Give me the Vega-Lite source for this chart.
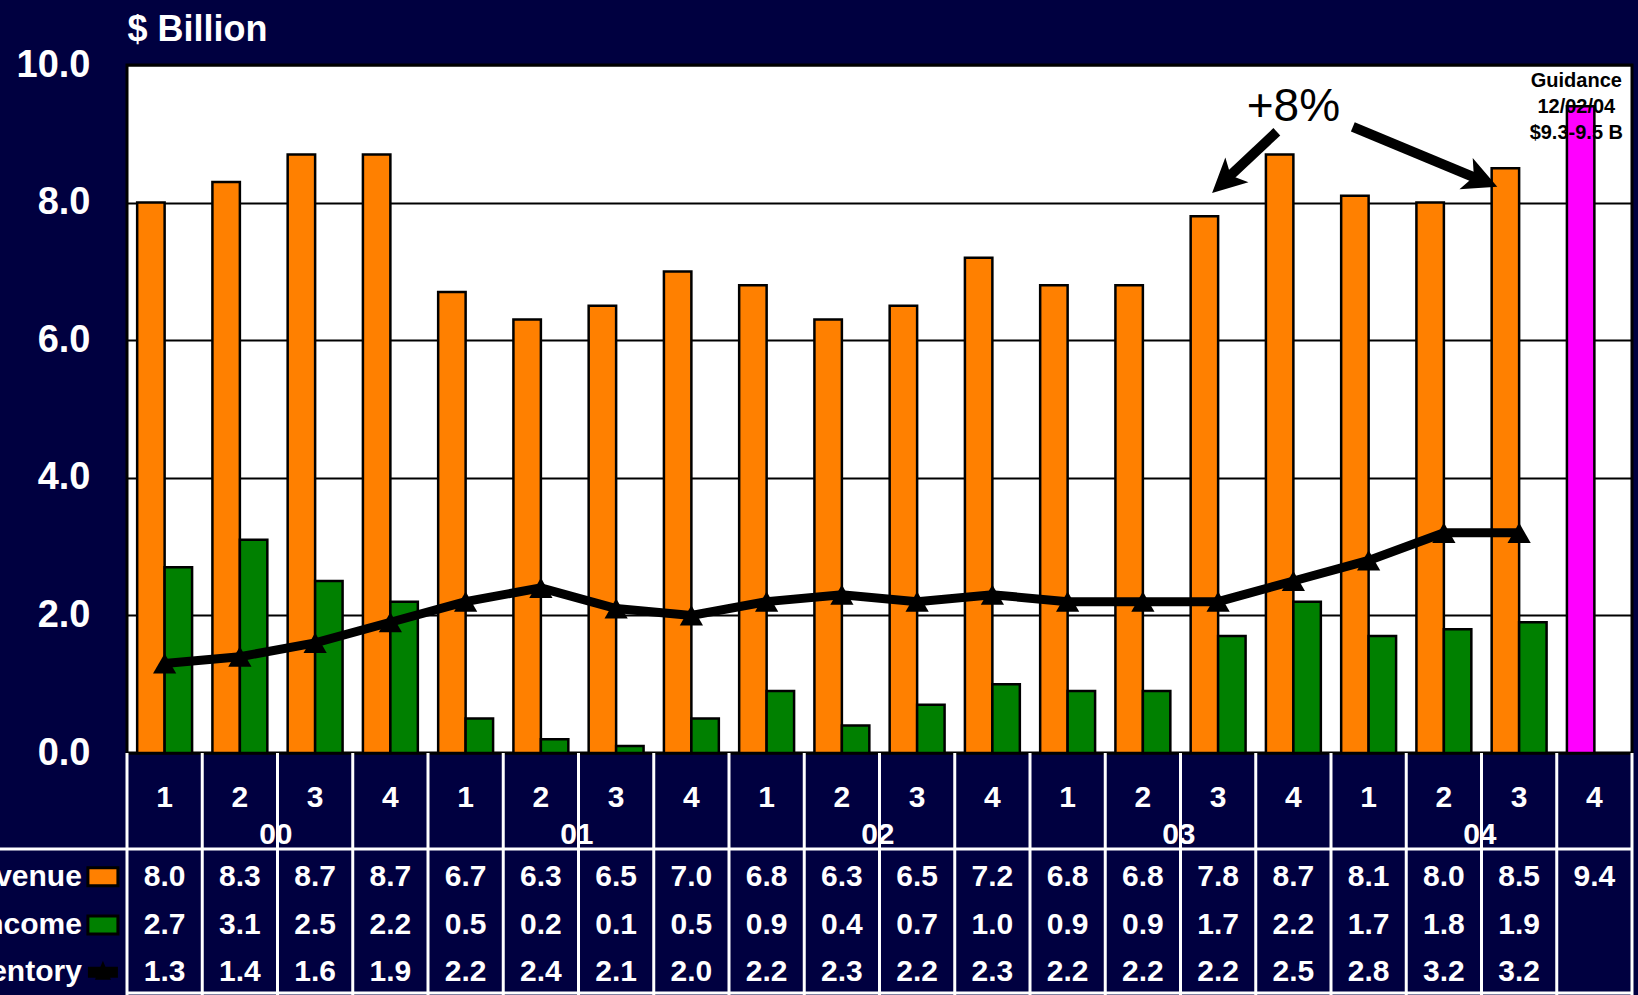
{
  "$schema": "https://vega.github.io/schema/vega-lite/v6.json",
  "width": 1505,
  "height": 688,
  "autosize": {"type": "none"},
  "padding": {"left": 127, "top": 65, "right": 6, "bottom": 242},
  "background": "#000040",
  "config": {
    "font": "Liberation Sans",
    "view": {"fill": "white", "stroke": "black", "strokeWidth": 3}
  },
  "datasets": {
    "quarters": [
      {"q": "00-1", "year": "00", "qtr": "1", "Revenue": 8.0, "Income": 2.7, "Inventory": 1.3},
      {"q": "00-2", "year": "00", "qtr": "2", "Revenue": 8.3, "Income": 3.1, "Inventory": 1.4},
      {"q": "00-3", "year": "00", "qtr": "3", "Revenue": 8.7, "Income": 2.5, "Inventory": 1.6},
      {"q": "00-4", "year": "00", "qtr": "4", "Revenue": 8.7, "Income": 2.2, "Inventory": 1.9},
      {"q": "01-1", "year": "01", "qtr": "1", "Revenue": 6.7, "Income": 0.5, "Inventory": 2.2},
      {"q": "01-2", "year": "01", "qtr": "2", "Revenue": 6.3, "Income": 0.2, "Inventory": 2.4},
      {"q": "01-3", "year": "01", "qtr": "3", "Revenue": 6.5, "Income": 0.1, "Inventory": 2.1},
      {"q": "01-4", "year": "01", "qtr": "4", "Revenue": 7.0, "Income": 0.5, "Inventory": 2.0},
      {"q": "02-1", "year": "02", "qtr": "1", "Revenue": 6.8, "Income": 0.9, "Inventory": 2.2},
      {"q": "02-2", "year": "02", "qtr": "2", "Revenue": 6.3, "Income": 0.4, "Inventory": 2.3},
      {"q": "02-3", "year": "02", "qtr": "3", "Revenue": 6.5, "Income": 0.7, "Inventory": 2.2},
      {"q": "02-4", "year": "02", "qtr": "4", "Revenue": 7.2, "Income": 1.0, "Inventory": 2.3},
      {"q": "03-1", "year": "03", "qtr": "1", "Revenue": 6.8, "Income": 0.9, "Inventory": 2.2},
      {"q": "03-2", "year": "03", "qtr": "2", "Revenue": 6.8, "Income": 0.9, "Inventory": 2.2},
      {"q": "03-3", "year": "03", "qtr": "3", "Revenue": 7.8, "Income": 1.7, "Inventory": 2.2},
      {"q": "03-4", "year": "03", "qtr": "4", "Revenue": 8.7, "Income": 2.2, "Inventory": 2.5},
      {"q": "04-1", "year": "04", "qtr": "1", "Revenue": 8.1, "Income": 1.7, "Inventory": 2.8},
      {"q": "04-2", "year": "04", "qtr": "2", "Revenue": 8.0, "Income": 1.8, "Inventory": 3.2},
      {"q": "04-3", "year": "04", "qtr": "3", "Revenue": 8.5, "Income": 1.9, "Inventory": 3.2},
      {"q": "04-4", "year": "04", "qtr": "4", "Revenue": 9.4, "Income": null, "Inventory": null}
    ]
  },
  "layer": [
    {
      "data": {"name": "quarters"},
      "encoding": {
        "x": {"field": "q", "type": "nominal", "sort": null, "axis": null,
              "scale": {"paddingInner": 0, "paddingOuter": 0}}
      },
      "layer": [
        {
          "transform": [{"fold": ["Revenue", "Income"], "as": ["series", "value"]}],
          "mark": {"type": "bar", "stroke": "black", "strokeWidth": 2.5},
          "encoding": {
            "xOffset": {"field": "series", "type": "nominal",
                        "scale": {"domain": ["Revenue", "Income"], "paddingInner": 0, "paddingOuter": 0.37}},
            "y": {"field": "value", "type": "quantitative",
                  "scale": {"domain": [0, 10], "nice": false, "zero": true},
                  "axis": {"values": [0, 2, 4, 6, 8, 10], "format": ".1f", "grid": true,
                           "gridColor": "black", "gridWidth": 2, "ticks": false, "domain": false,
                           "labelColor": "white", "labelFont": "Liberation Sans", "labelFontSize": 38,
                           "labelFontWeight": "bold", "labelPadding": 37,
                           "title": "$ Billion", "titleAngle": 0, "titleX": 0, "titleY": -36,
                           "titleAlign": "left", "titleBaseline": "middle", "titleColor": "white",
                           "titleFont": "Liberation Sans", "titleFontSize": 36, "titleFontWeight": "bold"}},
            "color": {
              "condition": {"test": "datum.q === '04-4'", "value": "#FF00FF"},
              "field": "series", "type": "nominal",
              "scale": {"domain": ["Revenue", "Income"], "range": ["#FF8000", "#008000"]},
              "legend": null
            }
          }
        },
        {
          "mark": {"type": "line", "color": "black", "strokeWidth": 9,
                   "point": {"shape": "triangle-up", "size": 540, "filled": true, "color": "black"}},
          "encoding": {"y": {"field": "Inventory", "type": "quantitative"}}
        },
        {
          "mark": {"type": "rule", "color": "white", "strokeWidth": 3},
          "encoding": {
            "x": {"field": "q", "type": "nominal", "sort": null, "bandPosition": 0},
            "y": {"datum": 0},
            "y2": {"datum": -3.6}
          }
        },
        {
          "mark": {"type": "text", "color": "white", "fontSize": 30, "fontWeight": "bold", "baseline": "middle"},
          "encoding": {"text": {"field": "qtr"}, "y": {"datum": -0.654}}
        },
        {
          "transform": [{"filter": "datum.qtr === '2'"}],
          "mark": {"type": "text", "color": "white", "fontSize": 30, "fontWeight": "bold", "baseline": "middle", "dx": 36},
          "encoding": {"text": {"field": "year"}, "y": {"datum": -1.19}}
        },
        {
          "mark": {"type": "text", "color": "white", "fontSize": 30, "fontWeight": "bold", "baseline": "middle"},
          "encoding": {"text": {"field": "Revenue", "format": ".1f"}, "y": {"datum": -1.80}}
        },
        {
          "transform": [{"filter": "datum.Income != null"}],
          "mark": {"type": "text", "color": "white", "fontSize": 30, "fontWeight": "bold", "baseline": "middle"},
          "encoding": {"text": {"field": "Income", "format": ".1f"}, "y": {"datum": -2.50}}
        },
        {
          "transform": [{"filter": "datum.Inventory != null"}],
          "mark": {"type": "text", "color": "white", "fontSize": 30, "fontWeight": "bold", "baseline": "middle"},
          "encoding": {"text": {"field": "Inventory", "format": ".1f"}, "y": {"datum": -3.18}}
        }
      ]
    },
    {
      "data": {"values": [{}]},
      "layer": [
        {
          "mark": {"type": "rule", "color": "white", "strokeWidth": 3},
          "encoding": {
            "x": {"datum": -1.7, "type": "quantitative", "scale": {"domain": [0, 20], "nice": false, "zero": false}, "axis": null},
            "x2": {"datum": 20},
            "y": {"datum": -1.395}
          }
        },
        {
          "mark": {"type": "rule", "color": "white", "strokeWidth": 3},
          "encoding": {
            "x": {"datum": 0, "type": "quantitative"},
            "x2": {"datum": 20},
            "y": {"datum": -3.49}
          }
        },
        {
          "mark": {"type": "rule", "color": "white", "strokeWidth": 3},
          "encoding": {
            "x": {"datum": 20, "type": "quantitative"},
            "y": {"datum": 0},
            "y2": {"datum": -3.6}
          }
        },
        {
          "mark": {"type": "text", "color": "white", "fontSize": 30, "fontWeight": "bold", "align": "right", "baseline": "middle"},
          "encoding": {"text": {"value": "Revenue"}, "x": {"datum": -0.6, "type": "quantitative"}, "y": {"datum": -1.80}}
        },
        {
          "mark": {"type": "text", "color": "white", "fontSize": 30, "fontWeight": "bold", "align": "right", "baseline": "middle"},
          "encoding": {"text": {"value": "Income"}, "x": {"datum": -0.6, "type": "quantitative"}, "y": {"datum": -2.50}}
        },
        {
          "mark": {"type": "text", "color": "white", "fontSize": 30, "fontWeight": "bold", "align": "right", "baseline": "middle"},
          "encoding": {"text": {"value": "Inventory"}, "x": {"datum": -0.6, "type": "quantitative"}, "y": {"datum": -3.18}}
        },
        {
          "mark": {"type": "point", "shape": "M-1.5,-0.9L1.5,-0.9L1.5,0.9L-1.5,0.9Z", "size": 400, "filled": true,
                   "fill": "#FF8000", "stroke": "black", "strokeWidth": 3, "opacity": 1},
          "encoding": {"x": {"datum": -0.32, "type": "quantitative"}, "y": {"datum": -1.80}}
        },
        {
          "mark": {"type": "point", "shape": "M-1.5,-0.9L1.5,-0.9L1.5,0.9L-1.5,0.9Z", "size": 400, "filled": true,
                   "fill": "#008000", "stroke": "black", "strokeWidth": 3, "opacity": 1},
          "encoding": {"x": {"datum": -0.32, "type": "quantitative"}, "y": {"datum": -2.50}}
        },
        {
          "mark": {"type": "point", "shape": "M-1.5,-0.5L1.5,-0.5L1.5,0.6L-1.5,0.6Z M-0.8,0.8L0,-1.1L0.8,0.8Z", "size": 400, "filled": true,
                   "fill": "black", "opacity": 1},
          "encoding": {"x": {"datum": -0.32, "type": "quantitative"}, "y": {"datum": -3.18}}
        },
        {
          "mark": {"type": "text", "color": "black", "fontSize": 46, "align": "center", "baseline": "middle"},
          "encoding": {"text": {"value": "+8%"}, "x": {"datum": 15.5, "type": "quantitative"}, "y": {"datum": 9.39}}
        },
        {
          "mark": {"type": "text", "color": "black", "fontSize": 20, "fontWeight": "bold", "align": "center", "baseline": "middle", "lineHeight": 26},
          "encoding": {"text": {"value": ["Guidance", "12/02/04", "$9.3-9.5 B"]}, "x": {"datum": 19.26, "type": "quantitative"}, "y": {"datum": 9.77}}
        },
        {
          "mark": {"type": "rule", "color": "black", "strokeWidth": 10},
          "encoding": {"x": {"datum": 15.28, "type": "quantitative"}, "x2": {"datum": 14.61}, "y": {"datum": 9.03}, "y2": {"datum": 8.34}}
        },
        {
          "mark": {"type": "point", "shape": "M0,0L-1,2L0,1.5L1,2Z", "size": 1150, "filled": true, "fill": "black", "opacity": 1, "angle": 227},
          "encoding": {"x": {"datum": 14.42, "type": "quantitative"}, "y": {"datum": 8.14}}
        },
        {
          "mark": {"type": "rule", "color": "black", "strokeWidth": 10},
          "encoding": {"x": {"datum": 16.29, "type": "quantitative"}, "x2": {"datum": 17.96}, "y": {"datum": 9.10}, "y2": {"datum": 8.34}}
        },
        {
          "mark": {"type": "point", "shape": "M0,0L-1,2L0,1.5L1,2Z", "size": 1150, "filled": true, "fill": "black", "opacity": 1, "angle": 113},
          "encoding": {"x": {"datum": 18.21, "type": "quantitative"}, "y": {"datum": 8.23}}
        }
      ]
    }
  ],
  "resolve": {"scale": {"x": "independent"}}
}
